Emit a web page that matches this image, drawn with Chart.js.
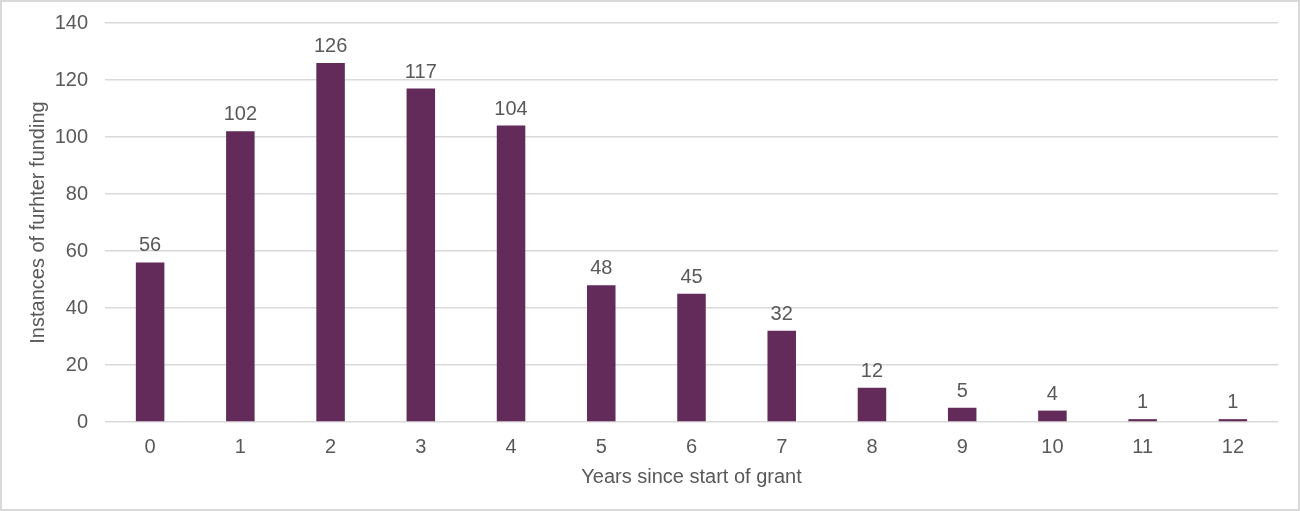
<!DOCTYPE html>
<html><head><meta charset="utf-8">
<script src="https://cdn.jsdelivr.net/npm/chart.js@4.4.0/dist/chart.umd.min.js"></script>
<style>html,body{margin:0;padding:0;background:#fff}#w{width:1300px;height:511px;position:relative}</style>
</head><body><div id="w"><canvas id="c" width="1300" height="511"></canvas></div>
<script>
const categories = ["0","1","2","3","4","5","6","7","8","9","10","11","12"];
const values = [56,102,126,117,104,48,45,32,12,5,4,1,1];
const yTicks = [0,20,40,60,80,100,120,140];
const xTitle = "Years since start of grant";
const yTitle = "Instances of furhter funding";

const FONT = "'Liberation Sans', Arial, sans-serif";
const TXT = "#595959";
const FS = 20;

const labelPlugin = {
  id: 'labels',
  afterDatasetsDraw(chart) {
    const ctx = chart.ctx;
    const meta = chart.getDatasetMeta(0);
    ctx.save();
    ctx.font = FS + "px " + FONT;
    ctx.fillStyle = TXT;
    ctx.textAlign = 'center';
    ctx.textBaseline = 'alphabetic';
    meta.data.forEach((bar, i) => {
      ctx.fillText(String(values[i]), bar.x, bar.y - 11);
    });
    ctx.restore();
  }
};
const borderPlugin = {
  id: 'frame',
  afterDraw(chart) {
    const ctx = chart.ctx;
    ctx.save();
    ctx.fillStyle = '#d9d9d9';
    ctx.fillRect(0,0,1300,2);
    ctx.fillRect(0,509,1300,2);
    ctx.fillRect(0,0,2,511);
    ctx.fillRect(1298,0,2,511);
    ctx.restore();
  }
};

new Chart(document.getElementById('c'), {
  type: 'bar',
  data: { labels: categories, datasets: [{ data: values, backgroundColor: '#622B5A', barPercentage: 0.316, categoryPercentage: 1.0 }] },
  options: {
    responsive: false, animation: false,
    layout: { padding: { top: 23, right: 22, left: 0, bottom: 22 } },
    plugins: { legend: { display: false }, tooltip: { enabled: false } },
    scales: {
      x: {
        grid: { display: false, drawTicks: false },
        border: { display: false },
        ticks: { color: TXT, font: { family: FONT, size: FS }, padding: 13, maxRotation: 0 },
        title: { display: true, text: xTitle, color: TXT, font: { family: FONT, size: FS }, padding: { top: 4, bottom: 0 } },
        afterFit(s) { s.height = 67; s.paddingLeft = 0; s.paddingRight = 0; }
      },
      y: {
        min: 0, max: 140,
        afterBuildTicks(s) { s.ticks = yTicks.map(v => ({ value: v })); },
        grid: { color: '#d9d9d9', lineWidth: 1.5, drawTicks: false },
        border: { display: false },
        ticks: { color: TXT, font: { family: FONT, size: FS }, padding: 17 },
        title: { display: true, text: yTitle, color: TXT, font: { family: FONT, size: FS }, padding: { top: 26, bottom: 0 } },
        afterFit(s) { s.width = 105; s.paddingTop = 0; s.paddingBottom = 0; }
      }
    }
  },
  plugins: [labelPlugin, borderPlugin]
});
</script></body></html>
